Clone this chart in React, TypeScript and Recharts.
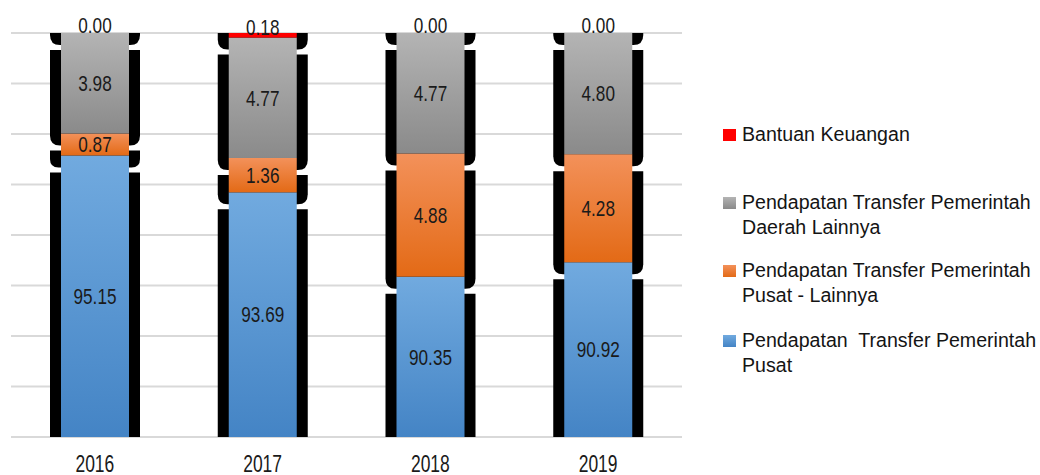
import React from 'react';
import { BarChart, Bar, XAxis, YAxis, CartesianGrid, LabelList, Legend } from 'recharts';

const years = ['2016', '2017', '2018', '2019'];
const pusat = [95.15, 93.69, 90.35, 90.92];
const pusatLainnya = [0.87, 1.36, 4.88, 4.28];
const daerahLainnya = [3.98, 4.77, 4.77, 4.8];
const bantuan = [0.0, 0.18, 0.0, 0.0];
const yTicks = [84, 86, 88, 90, 92, 94, 96, 98, 100];

const seriesKeys = ['pusat', 'pusatLainnya', 'daerahLainnya', 'bantuan'];
const seriesNames = [
  'Pendapatan  Transfer Pemerintah Pusat',
  'Pendapatan Transfer Pemerintah Pusat - Lainnya',
  'Pendapatan Transfer Pemerintah Daerah Lainnya',
  'Bantuan Keuangan',
];
const seriesGradients: [string, string][] = [
  ['#71AADF', '#4484C5'],
  ['#F3915A', '#E36A16'],
  ['#B4B4B4', '#8A8A8A'],
  ['#FF0000', '#FF0000'],
];

const data = years.map((year, i) => ({
  year,
  pusat: pusat[i],
  pusatLainnya: pusatLainnya[i],
  daerahLainnya: daerahLainnya[i],
  bantuan: bantuan[i],
}));

const W = 1040;
const H = 475;
const MARGIN = { top: 33, right: 358, bottom: 0, left: 11 };
const PLOT_TOP = MARGIN.top;
const PLOT_BOTTOM = 437;
const SANS = "'Liberation Sans', Arial, sans-serif";
const NARROW_SCALE = 0.78;

const ShadowShape = (props: any) => {
  const { x, y, width, height, isTop } = props;
  if (x == null || y == null) return null;
  const sx = x - 11;
  const sw = width + 22;
  const st = isTop ? y - 20 : y + 17;
  const sb = y + height + 12;
  if (sb - st <= 0) return null;
  const r = Math.min(10, (sb - st) / 2);
  const d = `M${sx},${st} H${sx + sw} V${sb - r} Q${sx + sw},${sb} ${sx + sw - r},${sb} H${sx + r} Q${sx},${sb} ${sx},${sb - r} Z`;
  return <path d={d} fill="#000" />;
};

const SegmentShape = (props: any) => {
  const { x, y, width, height, gradId } = props;
  const vt = Math.max(y, PLOT_TOP);
  const vb = Math.min(y + height, PLOT_BOTTOM);
  if (vb - vt <= 0) return null;
  return <rect x={x} y={vt} width={width} height={vb - vt} fill={`url(#${gradId})`} />;
};

const makeLabel = (isTop: boolean) => (p: any) => {
  const { x, y, width, height, value } = p;
  const vt = Math.max(y, PLOT_TOP);
  const vb = Math.max(Math.min(y + height, PLOT_BOTTOM), vt);
  const cy = (vt + vb) / 2 - (isTop ? 8 : 0);
  return (
    <text
      transform={`translate(${x + width / 2},${cy}) scale(${NARROW_SCALE},1)`}
      x={0}
      y={0}
      textAnchor="middle"
      dominantBaseline="central"
      fontSize={22}
      fontFamily={SANS}
      fill="#1a1a1a"
    >
      {Number(value).toFixed(2)}
    </text>
  );
};

const YearTick = (p: any) => (
  <text
    transform={`translate(${p.x},${PLOT_BOTTOM + 35}) scale(0.76,1)`}
    x={0}
    y={0}
    textAnchor="middle"
    fontSize={23}
    fontFamily={SANS}
    fill="#1a1a1a"
  >
    {p.payload.value}
  </text>
);

const legendTops = [207, 137, 69, 1];

const LegendContent = (props: any) => {
  const payload = props.payload || [];
  return (
    <div style={{ position: 'relative', width: 317, height: 260 }}>
      {payload.map((item: any) => {
        const idx = seriesKeys.indexOf(item.dataKey);
        const top = legendTops[idx];
        const [c1, c2] = seriesGradients[idx];
        return (
          <div key={item.dataKey} style={{ position: 'absolute', left: 0, top }}>
            <div
              style={{
                position: 'absolute',
                left: 0,
                top: 7,
                width: 13,
                height: 12,
                background: `linear-gradient(${c1}, ${c2})`,
              }}
            />
            <div
              style={{
                position: 'absolute',
                left: 19,
                top: 0,
                width: 298,
                fontFamily: SANS,
                fontSize: 19.6,
                lineHeight: '25px',
                color: '#141414',
                whiteSpace: 'pre-wrap',
              }}
            >
              {seriesNames[idx]}
            </div>
          </div>
        );
      })}
    </div>
  );
};

export default function App() {
  return (
    <div style={{ position: 'absolute', left: 0, top: 0, width: W, height: H, background: '#fff' }}>
      <div style={{ position: 'absolute', left: 0, top: 0 }}>
        <BarChart width={W} height={H} data={data} margin={MARGIN} barSize={68}>
          <CartesianGrid vertical={false} stroke="#d9d9d9" strokeWidth={2} />
          <XAxis dataKey="year" height={38} axisLine={false} tickLine={false} tick={false} />
          <YAxis hide domain={[84, 100]} ticks={yTicks} allowDataOverflow />
          {seriesKeys.map((k, i) => (
            <Bar
              key={k}
              dataKey={k}
              name={seriesNames[i]}
              stackId="a"
              isAnimationActive={false}
              shape={(p: any) => <ShadowShape {...p} isTop={k === 'bantuan'} />}
            />
          ))}
        </BarChart>
      </div>
      <div style={{ position: 'absolute', left: 0, top: 0 }}>
        <BarChart width={W} height={H} data={data} margin={MARGIN} barSize={68}>
          <defs>
            {seriesKeys.map((k, i) => (
              <linearGradient key={k} id={`grad-${k}`} x1="0" y1="0" x2="0" y2="1">
                <stop offset="0%" stopColor={seriesGradients[i][0]} />
                <stop offset="100%" stopColor={seriesGradients[i][1]} />
              </linearGradient>
            ))}
          </defs>
          <XAxis dataKey="year" height={38} axisLine={false} tickLine={false} tick={<YearTick />} interval={0} />
          <YAxis hide domain={[84, 100]} ticks={yTicks} allowDataOverflow />
          {seriesKeys.map((k, i) => (
            <Bar
              key={k}
              dataKey={k}
              name={seriesNames[i]}
              stackId="a"
              fill={seriesGradients[i][1]}
              isAnimationActive={false}
              shape={(p: any) => <SegmentShape {...p} gradId={`grad-${k}`} />}
            >
              <LabelList dataKey={k} content={makeLabel(k === 'bantuan')} />
            </Bar>
          ))}
          <Legend
            layout="vertical"
            align="center"
            verticalAlign="middle"
            content={<LegendContent />}
            wrapperStyle={{ left: 723, top: 121, width: 317, height: 260 }}
          />
        </BarChart>
      </div>
    </div>
  );
}
